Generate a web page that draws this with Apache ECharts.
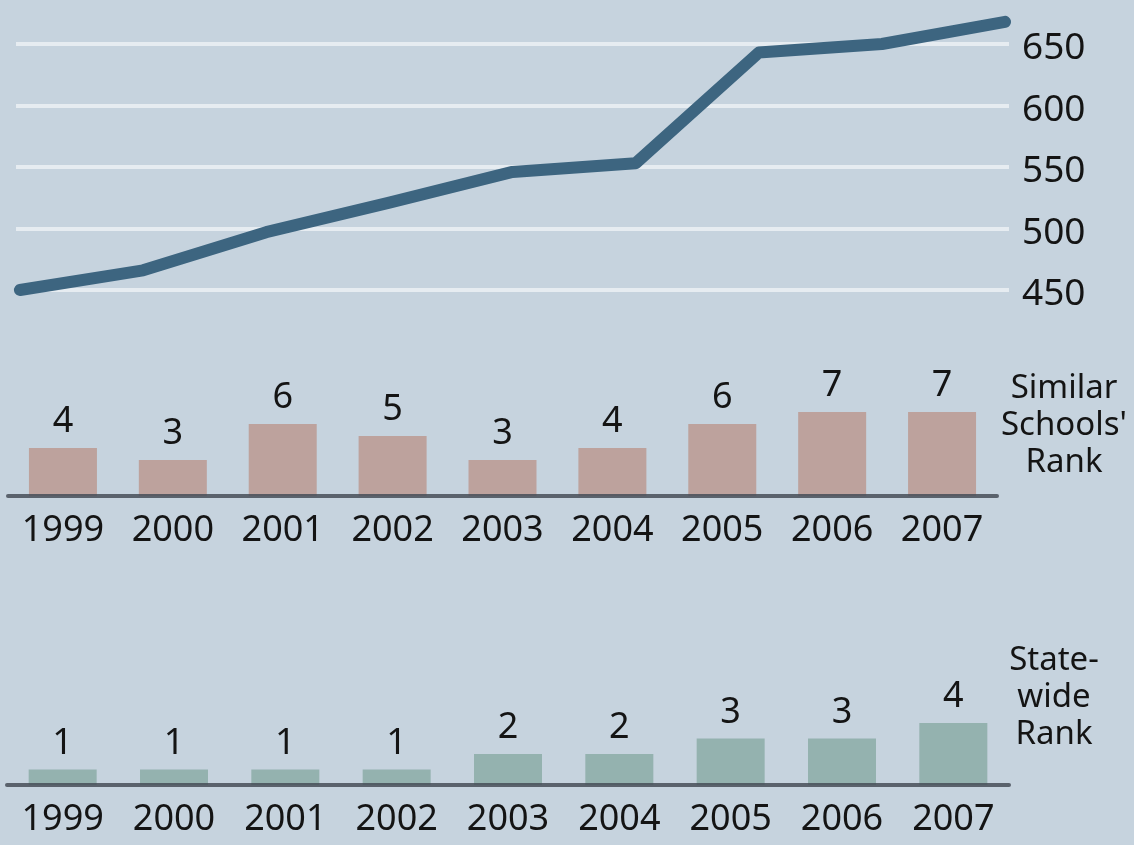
<!DOCTYPE html>
<html>
<head>
<meta charset="utf-8">
<title>Scores and ranks</title>
<script src="https://cdn.jsdelivr.net/npm/echarts@6/dist/echarts.min.js"></script>
<style>
  html, body { margin: 0; padding: 0; background: #c6d3de; }
  #chart { width: 1134px; height: 845px; }
</style>
</head>
<body>
<div id="chart"></div>
<script>
const years = [1999, 2000, 2001, 2002, 2003, 2004, 2005, 2006, 2007];
const scores = [450, 466, 497, 521, 546, 553, 643, 650, 668];
const scoreTicks = [450, 500, 550, 600, 650];
const similarRank = [4, 3, 6, 5, 3, 4, 6, 7, 7];
const stateRank = [1, 1, 1, 1, 2, 2, 3, 3, 4];

const FONT = '"Noto Sans", "Open Sans", sans-serif';
const INK = '#141414';

// bar charts share most of their look
const barAxisX = (grid) => ({
  type: 'category',
  gridIndex: grid,
  data: years.map(String),
  z: 5,
  axisLine: { lineStyle: { color: 'rgba(70,78,88,0.85)', width: 4 } },
  axisTick: { show: false },
  axisLabel: { fontSize: 36, fontFamily: FONT, color: INK, margin: 17 }
});

const barSeries = (grid, data, color) => ({
  type: 'bar',
  xAxisIndex: grid,
  yAxisIndex: grid,
  data: data,
  barWidth: 68,
  itemStyle: { color: color },
  label: {
    show: true,
    position: 'top',
    distance: 8,
    fontSize: 36,
    fontFamily: FONT,
    color: INK
  }
});

const sideText = (lines, x, y) => ({
  type: 'text',
  x: x,
  y: y,
  style: {
    text: lines.join('\n'),
    fontSize: 33,
    lineHeight: 37,
    fontFamily: FONT,
    fill: INK,
    align: 'center'
  }
});

const renderChart = () => {
  var myChart = echarts.init(document.getElementById('chart'));

  var option = {
    backgroundColor: '#c6d3de',
    animation: false,
    grid: [
      { left: 16, right: 125, top: 44, bottom: 555 },
      { left: 8, right: 137, top: 412, bottom: 349 },
      { left: 7, right: 125, top: 723, bottom: 60 }
    ],
    xAxis: [
      { type: 'value', gridIndex: 0, min: 1998.968, max: 2007.032, show: false },
      barAxisX(1),
      barAxisX(2)
    ],
    yAxis: [
      {
        type: 'value',
        gridIndex: 0,
        position: 'right',
        min: scoreTicks[0],
        max: scoreTicks[scoreTicks.length - 1],
        interval: 50,
        axisLine: { show: false },
        axisTick: { show: false },
        splitLine: { lineStyle: { color: '#e6ecf1', width: 4 } },
        axisLabel: {
          margin: 13,
          formatter: '{v|{value}}',
          rich: {
            v: {
              fontSize: 37,
              fontFamily: FONT,
              color: INK,
              padding: [9, 0, 0, 0]
            }
          }
        }
      },
      { type: 'value', gridIndex: 1, min: 0, max: 7, show: false },
      { type: 'value', gridIndex: 2, min: 0, max: 4, show: false }
    ],
    series: [
      {
        type: 'line',
        xAxisIndex: 0,
        yAxisIndex: 0,
        data: years.map((y, i) => [y, scores[i]]),
        symbol: 'none',
        clip: false,
        z: 4,
        lineStyle: { color: '#3d6580', width: 12, cap: 'round', join: 'round' }
      },
      barSeries(1, similarRank, '#bda29d'),
      barSeries(2, stateRank, '#94b2af')
    ],
    graphic: [
      sideText(['Similar', "Schools'", 'Rank'], 1064, 370),
      sideText(['State-', 'wide', 'Rank'], 1054, 642)
    ]
  };

  myChart.setOption(option);
}

document.addEventListener('DOMContentLoaded', function () {
  renderChart();
});
</script>
</body>
</html>
